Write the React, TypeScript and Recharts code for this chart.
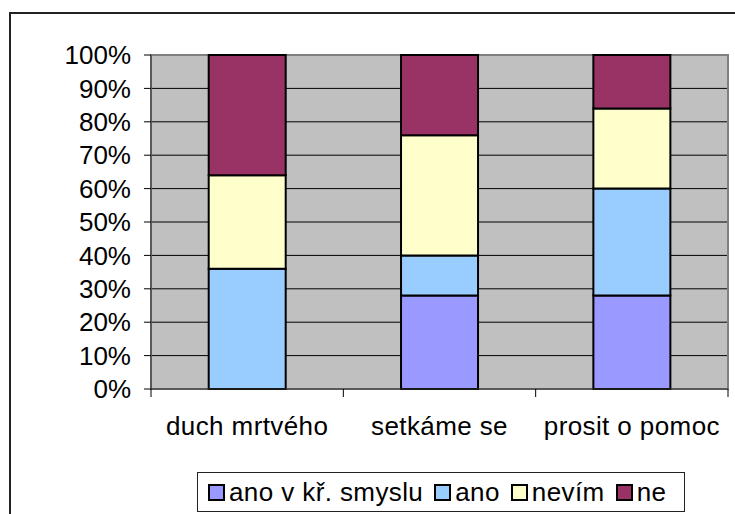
import { BarChart, Bar, XAxis, YAxis, CartesianGrid, ReferenceArea } from 'recharts';

const categories = ['duch mrtvého', 'setkáme se', 'prosit o pomoc'];
const anoVKrSmyslu = [0, 28, 28];
const ano = [36, 12, 32];
const nevim = [28, 36, 24];
const ne = [36, 24, 16];
const yTicks = [0, 10, 20, 30, 40, 50, 60, 70, 80, 90, 100];

const series = [
  { key: 'anoVKr', name: 'ano v kř. smyslu', color: '#9999FF', values: anoVKrSmyslu },
  { key: 'ano', name: 'ano', color: '#99CCFF', values: ano },
  { key: 'nevim', name: 'nevím', color: '#FFFFCC', values: nevim },
  { key: 'ne', name: 'ne', color: '#993366', values: ne },
];

const data = categories.map((name, i) => {
  const row: Record<string, string | number> = { name };
  series.forEach((s) => (row[s.key] = s.values[i]));
  return row;
});

const FONT = 'Liberation Sans, Arial, sans-serif';
const BAND = (728 - 151) / categories.length;

function CategoryTick(props: any) {
  const { x, y, payload, index } = props;
  const left = x - BAND / 2;
  return (
    <g>
      <line x1={left} y1={y} x2={left} y2={y + 8} stroke="#000" />
      {index === categories.length - 1 && (
        <line x1={left + BAND} y1={y} x2={left + BAND} y2={y + 8} stroke="#000" />
      )}
      <text x={x} y={y + 46} textAnchor="middle" fontSize={26} letterSpacing={0.4} fontFamily={FONT} fill="#000">
        {payload.value}
      </text>
    </g>
  );
}

function LegendBox() {
  return (
    <div
      style={{
        position: 'absolute',
        left: 197,
        top: 472,
        display: 'flex',
        alignItems: 'center',
        border: '1.5px solid #222',
        background: '#fff',
        height: 40,
        width: 488,
        padding: '0 10px',
        fontFamily: FONT,
        fontSize: 26,
        lineHeight: '30px',
        letterSpacing: 0.4,
        color: '#000',
        boxSizing: 'border-box',
        whiteSpace: 'nowrap',
      }}
    >
      {series.map((s, i) => (
        <div
          key={s.key}
          style={{ display: 'flex', alignItems: 'center', marginRight: i === series.length - 1 ? 0 : 11 }}
        >
          <span
            style={{
              width: 17,
              height: 17,
              background: s.color,
              border: '2px solid #000',
              boxSizing: 'border-box',
              marginRight: 4,
            }}
          />
          <span>{s.name}</span>
        </div>
      ))}
    </div>
  );
}

export default function App() {
  return (
    <div
      style={{
        position: 'fixed',
        left: 0,
        top: 0,
        width: 735,
        height: 514,
        overflow: 'hidden',
        background: '#fff',
      }}
    >
      <div
        style={{
          position: 'absolute',
          left: 9,
          top: 12,
          width: 760,
          height: 540,
          border: '2px solid #222',
          boxSizing: 'border-box',
        }}
      />
      <div style={{ position: 'absolute', left: 0, top: 0 }}>
        <BarChart
          width={735}
          height={514}
          data={data}
          margin={{ top: 55, right: 7, bottom: 85, left: 0 }}
          barCategoryGap="30%"
        >
          <CartesianGrid vertical={false} stroke="#000" fill="#C0C0C0" fillOpacity={1} />
          <ReferenceArea y1={0} y2={100} fill="none" stroke="#808080" strokeWidth={2} />
          <XAxis
            dataKey="name"
            axisLine={{ stroke: '#333' }}
            tickLine={false}
            tickSize={0}
            tickMargin={0}
            height={40}
            interval={0}
            tick={<CategoryTick />}
          />
          <YAxis
            width={151}
            domain={[0, 100]}
            ticks={yTicks}
            tickFormatter={(v) => `${v}%`}
            axisLine={{ stroke: '#333' }}
            tickLine={{ stroke: '#000' }}
            tickSize={7}
            tickMargin={13}
            interval={0}
            tick={{ fontSize: 26, fontFamily: FONT, fill: '#000' }}
          />
          {series.map((s) => (
            <Bar
              key={s.key}
              dataKey={s.key}
              name={s.name}
              stackId="a"
              fill={s.color}
              stroke="#000"
              strokeWidth={2}
              isAnimationActive={false}
            />
          ))}
        </BarChart>
      </div>
      <LegendBox />
    </div>
  );
}
